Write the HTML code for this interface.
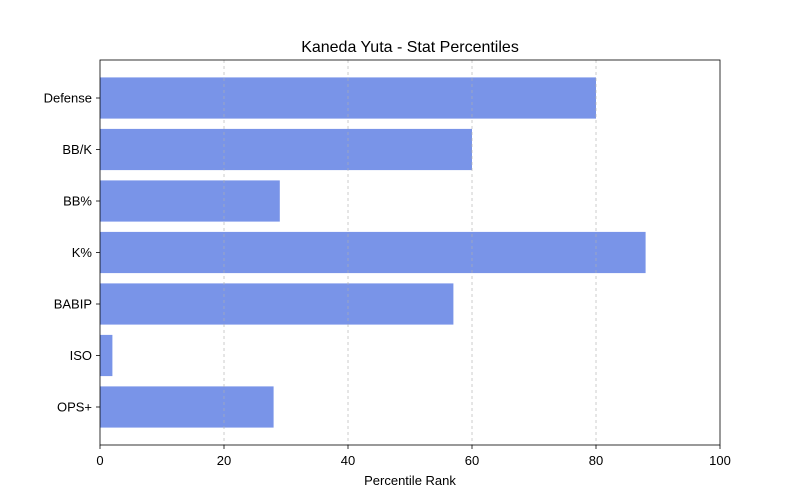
<!DOCTYPE html>
<html><head><meta charset="utf-8"><style>body{margin:0;background:#fff}svg{display:block;font-family:"Liberation Sans","DejaVu Sans",sans-serif}</style></head>
<body>
<svg id="c" width="800" height="500"></svg>
<script>
const categories=["Defense","BB/K","BB%","K%","BABIP","ISO","OPS+"];
const values=[80,60,29,88,57,2,28];
const xTicks=[0,20,40,60,80,100];
const L=100,R=720,T=60,B=445;
const NS="http://www.w3.org/2000/svg";
const svg=document.getElementById('c');
function mk(t,a,txt){const e=document.createElementNS(NS,t);for(const k in a)e.setAttribute(k,a[k]);if(txt!=null)e.textContent=txt;svg.appendChild(e);return e;}
const x=v=>L+(v-0)/(100-0)*(R-L);
const n=categories.length;
const m=0.238;
const y=i=>{const min=-0.5-m,max=n-0.5+m;return T+(i-min)/(max-min)*(B-T);};
const bw=0.8*(y(1)-y(0));
categories.forEach((c,i)=>{
 const r=mk('rect',{x:x(0),y:y(i)-bw/2,width:x(values[i])-x(0),height:bw,fill:'#7994e8'});
 
 
 mk('line',{x1:L,x2:L-4,y1:y(i),y2:y(i),stroke:'#000','stroke-width':0.8});
 const t=mk('text',{x:L-8,y:y(i)+4.5,'text-anchor':'end','font-size':13},c);
 
 
});
xTicks.forEach(v=>{
 if(v>0&&v<100){const g=mk('line',{x1:x(v),x2:x(v),y1:T,y2:B,stroke:'#b0b0b0','stroke-width':0.8,'stroke-dasharray':'3,3','opacity':0.8});
 }
 mk('line',{x1:x(v),x2:x(v),y1:B,y2:B+4,stroke:'#000','stroke-width':0.8});
 const t=mk('text',{x:x(v),y:B+20,'text-anchor':'middle','font-size':13},String(v));
 
 
});
const f=mk('rect',{x:L,y:T,width:R-L,height:B-T,fill:'none',stroke:'#000','stroke-width':0.8});

const xt=mk('text',{x:(L+R)/2,y:485,'text-anchor':'middle','font-size':13},'Percentile Rank');

const tt=mk('text',{x:(L+R)/2,y:52,'text-anchor':'middle','font-size':16},'Kaneda Yuta - Stat Percentiles');

</script>
</body></html>
